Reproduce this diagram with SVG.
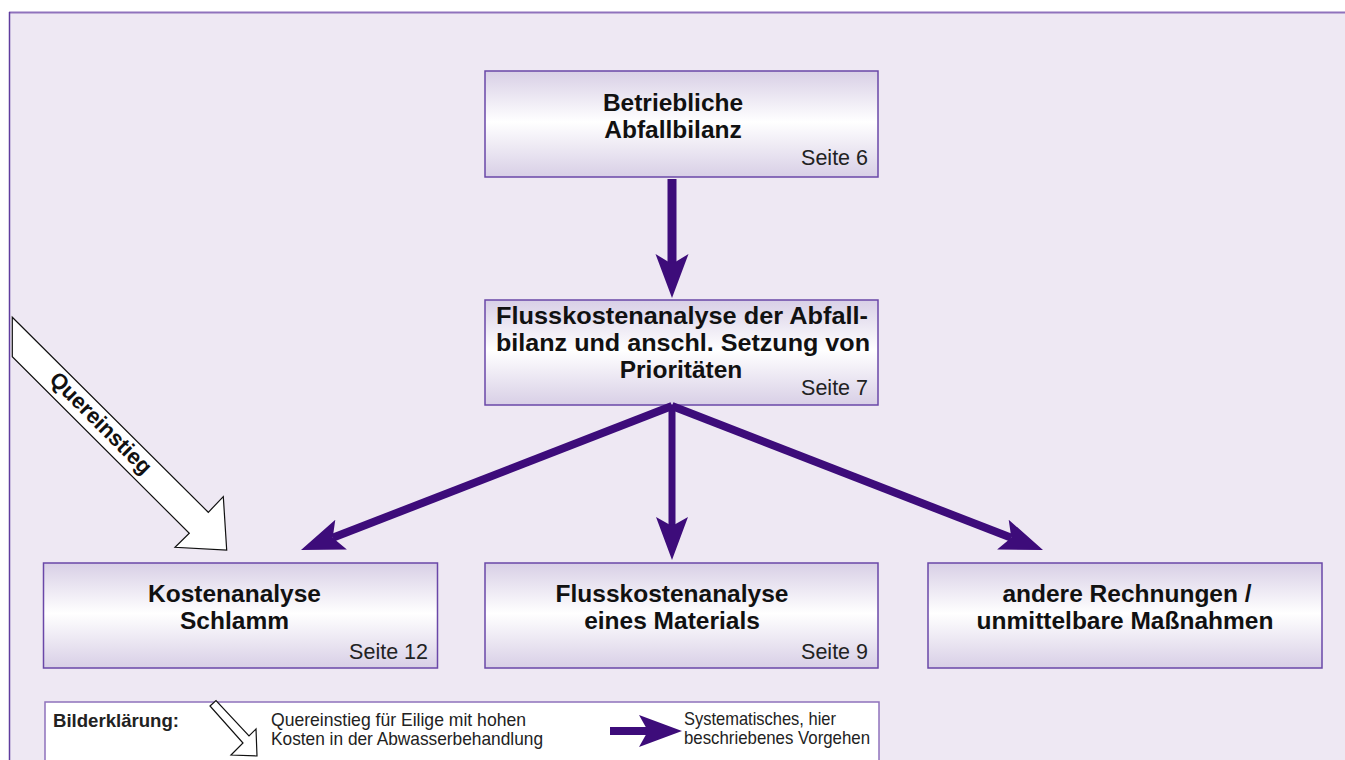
<svg xmlns="http://www.w3.org/2000/svg" width="1345" height="760" viewBox="0 0 1345 760">
  <defs>
    <linearGradient id="boxGrad" x1="0" y1="0" x2="0" y2="1">
      <stop offset="0" stop-color="#D8CFE6"/>
      <stop offset="0.48" stop-color="#FFFFFF"/>
      <stop offset="1" stop-color="#D8CFE6"/>
    </linearGradient>
    <marker id="head" markerUnits="userSpaceOnUse" viewBox="-10 -17 46 34" refX="0" refY="0" markerWidth="46" markerHeight="34" orient="auto" overflow="visible">
      <path d="M -9,-16 L 34,0 L -9,16 L 0,0 Z" fill="#3D0C7A"/>
    </marker>
    <marker id="headTop" markerUnits="userSpaceOnUse" viewBox="-11 -18 48 36" refX="0" refY="0" markerWidth="48" markerHeight="36" orient="auto" overflow="visible">
      <path d="M -10,-16.5 L 34,0 L -10,16.5 L 0,0 Z" fill="#3D0C7A"/>
    </marker>
  </defs>
  <style>
    .box { fill: url(#boxGrad); stroke: #6A47A8; stroke-width: 1.5; }
    .title { font-family: "Liberation Sans", Arial, sans-serif; font-weight: bold; font-size: 24.5px; fill: #111; text-anchor: middle; }
    .page { font-family: "Liberation Sans", Arial, sans-serif; font-size: 21.5px; fill: #222; text-anchor: end; }
    .flow { fill: none; stroke: #3D0C7A; stroke-linecap: butt; marker-end: url(#head); }
    .legend { font-family: "Liberation Sans", Arial, sans-serif; font-size: 18.5px; fill: #222; }
    .white-arrow { fill: #FFFFFF; stroke: #111; stroke-width: 1.2; stroke-linejoin: miter; }
  </style>

  <!-- background frame -->
  <rect x="9" y="12" width="1340" height="752" fill="#EEE8F3"/>
  <line x1="9" y1="12.5" x2="1345" y2="12.5" stroke="#8F72BC" stroke-width="2"/>
  <line x1="9.5" y1="12" x2="9.5" y2="760" stroke="#5F3C9E" stroke-width="1.5"/>

  <!-- nodes -->
  <g id="node-abfallbilanz">
    <rect class="box" x="485" y="71" width="393" height="106"/>
    <text class="title" x="673" y="111">Betriebliche</text>
    <text class="title" x="673" y="138">Abfallbilanz</text>
    <text class="page" x="868" y="165">Seite 6</text>
  </g>
  <g id="node-flusskostenanalyse-abfallbilanz">
    <rect class="box" x="485" y="300" width="393" height="105"/>
    <text class="title" x="682" y="324" textLength="372" lengthAdjust="spacingAndGlyphs">Flusskostenanalyse der Abfall-</text>
    <text class="title" x="683" y="351" textLength="374" lengthAdjust="spacingAndGlyphs">bilanz und anschl. Setzung von</text>
    <text class="title" x="681" y="378">Prioritäten</text>
    <text class="page" x="868" y="395">Seite 7</text>
  </g>
  <g id="node-kostenanalyse-schlamm">
    <rect class="box" x="43.5" y="563" width="394" height="105"/>
    <text class="title" x="234.5" y="602">Kostenanalyse</text>
    <text class="title" x="234.5" y="629">Schlamm</text>
    <text class="page" x="428" y="659">Seite 12</text>
  </g>
  <g id="node-flusskostenanalyse-material">
    <rect class="box" x="485" y="563" width="393" height="105"/>
    <text class="title" x="672" y="602">Flusskostenanalyse</text>
    <text class="title" x="672" y="629">eines Materials</text>
    <text class="page" x="868" y="659">Seite 9</text>
  </g>
  <g id="node-andere-rechnungen">
    <rect class="box" x="928" y="563" width="394" height="105"/>
    <text class="title" x="1127" y="602">andere Rechnungen /</text>
    <text class="title" x="1125" y="629">unmittelbare Maßnahmen</text>
  </g>

  <!-- Quereinstieg entry arrow -->
  <g id="node-quereinstieg">
    <polygon class="white-arrow" points="12.3,317.3 208.3,512.3 223.3,496.7 226.7,550 175,547.3 189.3,533.3 12.3,356.7"/>
    <text x="101" y="423" transform="rotate(45 101 423)" font-family="'Liberation Sans', Arial, sans-serif" font-weight="bold" font-size="22" fill="#111" text-anchor="middle" dominant-baseline="central">Quereinstieg</text>
  </g>

  <!-- connectors -->
  <g id="connectors">
    <line x1="672" y1="179" x2="672" y2="264" stroke="#3D0C7A" stroke-width="9" marker-end="url(#headTop)"/>
    <line class="flow" x1="672" y1="405" x2="672" y2="526" stroke-width="7"/>
    <line class="flow" x1="672" y1="406" x2="332.7" y2="537.8" stroke-width="8"/>
    <line class="flow" x1="672" y1="406" x2="1011.3" y2="537.8" stroke-width="8"/>
  </g>

  <!-- legend -->
  <g id="legend">
    <rect x="45" y="702" width="834" height="70" fill="#FFFFFF" stroke="#8F72BC" stroke-width="1.5"/>
    <text class="legend" x="53" y="727" font-weight="bold" fill="#111" textLength="126" lengthAdjust="spacingAndGlyphs">Bilderklärung:</text>
    <polygon class="white-arrow" points="210,706 216,700.5 249,736 256,729 257,756 231,755 243,743" stroke-width="1"/>
    <text class="legend" x="271" y="726" textLength="255" lengthAdjust="spacingAndGlyphs">Quereinstieg für Eilige mit hohen</text>
    <text class="legend" x="271" y="745" textLength="272" lengthAdjust="spacingAndGlyphs">Kosten in der Abwasserbehandlung</text>
    <line x1="610" y1="731" x2="648" y2="731" stroke="#3D0C7A" stroke-width="8" marker-end="url(#head)"/>
    <text class="legend" x="684" y="725" textLength="152" lengthAdjust="spacingAndGlyphs">Systematisches, hier</text>
    <text class="legend" x="684" y="744" textLength="186" lengthAdjust="spacingAndGlyphs">beschriebenes Vorgehen</text>
  </g>
</svg>
